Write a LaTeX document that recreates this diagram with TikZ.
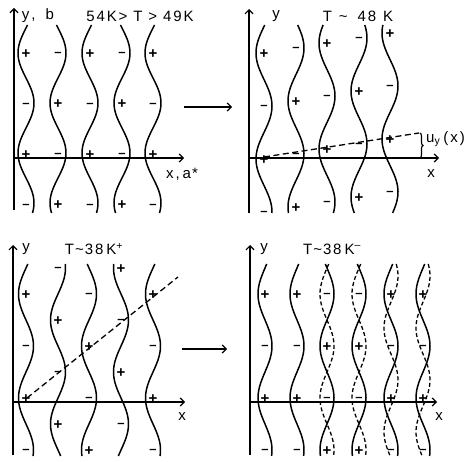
\documentclass[tikz,border=0pt]{standalone}
\usepackage{fontspec}
\setmainfont{Liberation Sans}
\usetikzlibrary{arrows.meta,decorations.pathreplacing}
\newcommand\mksign[1]{\ifnum#1=0 {\fontsize{15}{15}\selectfont\raisebox{-0.35em}{+}}\else{\fontsize{13}{13}\selectfont\raisebox{-0.28em}{\textendash}}\fi}
\newcommand\lsp{\hspace{1.8pt}}
\newcommand\wavecol[7][]{\draw[wave,#1,variable=\t,domain=#6:#7] plot ({#2-(#4)*cos((\t-(#3))/(#5)*360)},{\t});}
\tikzset{
  ax/.style={line width=1.3pt, -{Straight Barb[length=4pt,width=8pt,line width=1.2pt]}},
  wave/.style={line width=1.5pt, smooth, samples=80},
  dwave/.style={line width=1.3pt, dash pattern=on 4pt off 2.5pt},
  guide/.style={line width=1.3pt, dash pattern=on 6pt off 3.5pt},
  sg/.style={font=\bfseries, inner sep=0pt, anchor=base},
  lbl/.style={font=\fontsize{15}{15}\selectfont, inner sep=0pt},
}
\begin{document}
\begin{tikzpicture}[x=1pt,y=-1pt]
\useasboundingbox (0,0) rectangle (468,462);

% ---------- panel 1 ----------
\coordinate (o1) at (14,158);
\coordinate (y1b) at (14,210);
\coordinate (y1t) at (14,8);
\coordinate (x1e) at (184,158);
\draw[ax] (y1b) -- (y1t);
\draw[ax] (o1) -- (x1e);
\node[lbl] (l1y) at (38,16) {y\hspace{2pt},\hspace{10pt}b};
\node[lbl] (l1t) at (140,16) {5\lsp4\lsp K\lsp>\hspace{6pt}T\hspace{6pt}>\hspace{6pt}4\lsp9\lsp K};
\node[lbl] (l1x) at (182,174) {x\hspace{2pt},\hspace{3pt}a\hspace{1pt}*};
\coordinate (ar1a) at (184,107);
\coordinate (ar1b) at (232,107);
\draw[ax] (ar1a) -- (ar1b);
\foreach \k/\xc in {0/26,1/58,2/90,3/122,4/153}{
  \pgfmathsetmacro\yz{53+50*mod(\k,2)}
  \wavecol{\xc}{\yz}{8}{100}{25}{213}
  \foreach \n in {0,1,2,3}{
    \pgfmathsetmacro\yy{53+50.5*\n}
    \pgfmathtruncatemacro\s{mod(\k+\n,2)}
    \node[sg] (pa\k\n) at (\xc,\yy) {\mksign{\s}};
  }
}

% ---------- panel 2 ----------
\coordinate (o2) at (249,158);
\coordinate (y2b) at (249,213);
\coordinate (y2t) at (249,9);
\coordinate (x2e) at (439,158);
\draw[ax] (y2b) -- (y2t);
\draw[ax] (o2) -- (x2e);
\node[lbl] (l2y) at (276,16) {y};
\node[lbl] (l2t) at (358,16) {T\hspace{7pt}\textasciitilde\hspace{10pt}4\lsp8\hspace{7pt}K};
\node[lbl] (l2x) at (431,174) {x};
\foreach \k/\xc in {0/264,1/296,2/327,3/359,4/390}{
  \pgfmathsetmacro\yz{53-5*\k+53*mod(\k,2)}
  \wavecol{\xc}{\yz}{8}{106}{25}{213}
  \foreach \n in {0,1,2,3}{
    \pgfmathsetmacro\yy{53-5*\k+53*\n}
    \pgfmathtruncatemacro\s{mod(\k+\n,2)}
    \node[sg] (pb\k\n) at (\xc,\yy) {\mksign{\s}};
  }
}
\coordinate (d2a) at (264,157);
\coordinate (d2b) at (419,133);
\draw[guide] (d2a) -- (d2b);
\coordinate (br2t) at (420,133);
\coordinate (br2b) at (420,158);
\draw[line width=1.1pt, decorate, decoration={brace,amplitude=3pt}] (br2t) -- (br2b);
\node[lbl, anchor=west] (l2u) at (426,139) {u\textsubscript{y}\hspace{3pt}(\hspace{2pt}x\hspace{2pt})};

% ---------- panel 3 ----------
\coordinate (o3) at (13,402);
\coordinate (y3b) at (13,455);
\coordinate (y3t) at (13,245);
\coordinate (x3e) at (185,402);
\draw[ax] (y3b) -- (y3t);
\draw[ax] (o3) -- (x3e);
\node[lbl] (l3y) at (26,249) {y};
\node[lbl] (l3t) at (94,249) {T\hspace{1pt}\textasciitilde\hspace{1pt}3\lsp8\hspace{3pt}K\textsuperscript{+}};
\node[lbl] (l3x) at (182,417) {x};
\coordinate (ar3a) at (182,349);
\coordinate (ar3b) at (227,349);
\draw[ax] (ar3a) -- (ar3b);
\foreach \k/\xc in {0/26,1/58,2/89,3/121,4/153}{
  \pgfmathsetmacro\yz{294+26*\k}
  \wavecol{\xc}{\yz}{7.5}{104}{264}{456}
  \foreach \n in {0,1,2,3}{
    \pgfmathsetmacro\yy{294-26*mod(\k,2)+52*\n}
    \pgfmathtruncatemacro\s{mod(\n+floor((\k+1)/2),2)}
    \node[sg] (pc\k\n) at (\xc,\yy) {\mksign{\s}};
  }
}
\coordinate (d3a) at (27,398);
\coordinate (d3b) at (178,277);
\draw[guide] (d3a) -- (d3b);

% ---------- panel 4 ----------
\coordinate (o4) at (250,402);
\coordinate (y4b) at (250,455);
\coordinate (y4t) at (250,245);
\coordinate (x4e) at (437,402);
\draw[ax] (y4b) -- (y4t);
\draw[ax] (o4) -- (x4e);
\node[lbl] (l4y) at (264,249) {y};
\node[lbl] (l4t) at (332,249) {T\hspace{1pt}\textasciitilde\hspace{1pt}3\lsp8\hspace{3pt}K\textsuperscript{\textendash}};
\node[lbl] (l4x) at (439,417) {x};
\foreach \k/\xc/\ph in {0/265/0,1/297/0,2/327/1,3/359/1,4/391/0,5/423/0}{
  \pgfmathsetmacro\yz{294+52*\ph}
  \wavecol{\xc}{\yz}{7}{104}{264}{456}
  \foreach \n in {0,1,2,3}{
    \pgfmathsetmacro\yy{294+52*\n}
    \pgfmathtruncatemacro\s{mod(\n+\ph,2)}
    \node[sg] (pd\k\n) at (\xc,\yy) {\mksign{\s}};
  }
}
\wavecol[dwave]{327}{294}{7}{104}{264}{456}
\wavecol[dwave]{359}{294}{7}{104}{264}{456}
\wavecol[dwave]{391}{328}{7}{104}{264}{456}
\wavecol[dwave]{423}{328}{7}{104}{264}{456}
\end{tikzpicture}
\end{document}
